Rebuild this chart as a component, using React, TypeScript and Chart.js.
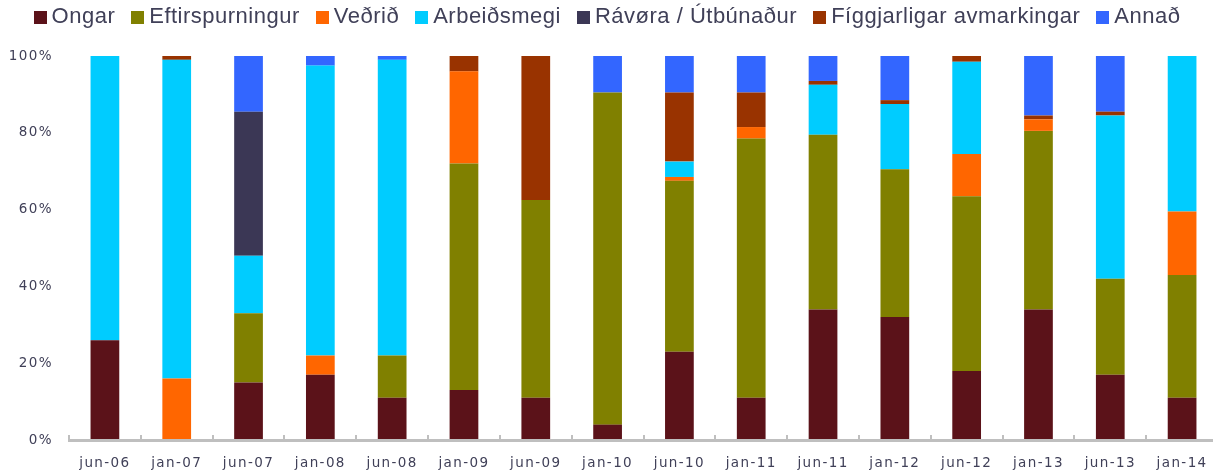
import React, { useEffect, useRef } from "react";
import { Chart, registerables } from "chart.js";

Chart.register(...registerables);

const categories = ["jun-06","jan-07","jun-07","jan-08","jun-08","jan-09","jun-09","jan-10","jun-10","jan-11","jun-11","jan-12","jun-12","jan-13","jun-13","jan-14"];

const ongar =          [26, 0, 15, 17, 11, 13, 11, 4, 23, 11, 34, 32, 18, 34, 17, 11];
const eftirspurningur = [0, 0, 18, 0, 11, 59, 51.5, 86.5, 44.5, 67.5, 45.5, 38.5, 45.5, 46.5, 25, 32];
const vedrid =         [0, 16, 0, 5, 0, 24, 0, 0, 1, 3, 0, 0, 11, 3, 0, 16.5];
const arbeidsmegi =    [74, 83, 15, 75.5, 77, 0, 0, 0, 4, 0, 13, 17, 24, 0, 42.5, 40.5];
const ravora =         [0, 0, 37.5, 0, 0, 0, 0, 0, 0, 0, 0, 0, 0, 0, 0, 0];
const figgjarligar =   [0, 1, 0, 0, 0, 4, 37.5, 0, 18, 9, 1, 1, 1.5, 1, 1, 0];
const annad =          [0, 0, 14.5, 2.5, 1, 0, 0, 9.5, 9.5, 9.5, 6.5, 11.5, 0, 15.5, 14.5, 0];

const yTicks = [0, 20, 40, 60, 80, 100];

const seriesNames = ["Ongar", "Eftirspurningur", "Veðrið", "Arbeiðsmegi", "Rávøra / Útbúnaður", "Fíggjarligar avmarkingar", "Annað"];
const seriesColors = ["#5B1219", "#808000", "#FF6600", "#00CCFF", "#3B3755", "#993300", "#3366FF"];
const seriesValues = [ongar, eftirspurningur, vedrid, arbeidsmegi, ravora, figgjarligar, annad];

const TEXT = "#404058";
const AXIS_SPACING = "1.4px";
const LEGEND_SPACING = "0.5px";

export default function App() {
  const ref = useRef<HTMLCanvasElement | null>(null);
  useEffect(() => {
    if (!ref.current) return;
    const axisPlugin = {
      id: "axisLine",
      afterInit(chart: any) {
        const lg = chart.legend;
        if (lg) {
          const fit0 = lg.fit.bind(lg);
          lg.fit = function () {
            const c = chart.ctx;
            c.save();
            c.letterSpacing = LEGEND_SPACING;
            fit0();
            c.restore();
            this.height = 56;
          };
          const draw0 = lg.draw.bind(lg);
          lg.draw = function (...a: any[]) {
            const c = chart.ctx;
            c.save();
            c.letterSpacing = LEGEND_SPACING;
            draw0(...a);
            c.restore();
          };
        }
      },
      beforeUpdate(chart: any) {
        chart.ctx.letterSpacing = AXIS_SPACING;
      },
      afterLayout(chart: any) {
        const lg = chart.legend;
        if (lg) {
          lg.top = -10;
          lg.left = lg.left - 4;
        }
      },
      beforeDraw(chart: any) {
        chart.ctx.letterSpacing = AXIS_SPACING;
      },
      afterDatasetsDraw(chart: any) {
        const { ctx, chartArea } = chart;
        const xs = chart.scales.x;
        const step = xs.getPixelForValue(1) - xs.getPixelForValue(0);
        const y = chartArea.bottom + 0.5;
        ctx.save();
        ctx.strokeStyle = "#BFBFBF";
        ctx.lineWidth = 3;
        ctx.beginPath();
        ctx.moveTo(chartArea.left - 1, y);
        ctx.lineTo(chartArea.right - 5, y);
        ctx.stroke();
        ctx.lineWidth = 2;
        for (let i = 0; i < categories.length; i++) {
          const x = Math.round(xs.getPixelForValue(i) - step / 2);
          ctx.beginPath();
          ctx.moveTo(x, y);
          ctx.lineTo(x, y - 5.5);
          ctx.stroke();
        }
        ctx.restore();
      },
      afterDraw(chart: any) {
        const lg = chart.legend;
        if (!lg || !lg.legendHitBoxes) return;
        const ctx = chart.ctx;
        ctx.save();
        lg.legendHitBoxes.forEach((hb: any, i: number) => {
          const cy = hb.top + hb.height / 2;
          ctx.fillStyle = seriesColors[i];
          ctx.fillRect(Math.round(hb.left), Math.round(cy - 6.5), 13, 13);
        });
        ctx.restore();
      },
    };
    const chart = new Chart(ref.current, {
      type: "bar",
      data: {
        labels: categories,
        datasets: seriesNames.map((n, i) => ({
          label: n,
          data: seriesValues[i],
          backgroundColor: seriesColors[i],
          borderWidth: 0,
          barPercentage: 0.4,
          categoryPercentage: 1,
        })),
      },
      options: {
        animation: false,
        responsive: false,
        maintainAspectRatio: false,
        layout: { padding: { left: 0, right: 6, top: 0, bottom: 0 } },
        plugins: {
          tooltip: { enabled: false },
          legend: {
            position: "top",
            align: "center",
            labels: {
              boxWidth: 7,
              boxHeight: 13,
              padding: 16,
              color: TEXT,
              font: { family: "'Liberation Sans', Arial, sans-serif", size: 22 },
              generateLabels: (ch: any) =>
                ch.data.datasets.map((ds: any, i: number) => ({
                  text: ds.label,
                  fillStyle: "rgba(0,0,0,0)",
                  strokeStyle: "rgba(0,0,0,0)",
                  lineWidth: 0,
                  fontColor: TEXT,
                  hidden: false,
                  datasetIndex: i,
                })),
            },
          },
        },
        scales: {
          x: {
            stacked: true,
            afterFit(s: any) { s.height = 35; },
            grid: { display: false },
            border: { display: false },
            ticks: {
              color: TEXT,
              padding: 7,
              maxRotation: 0,
              autoSkip: false,
              font: { family: "'DejaVu Sans', sans-serif", size: 13.5 },
            },
          },
          y: {
            stacked: true,
            min: 0,
            max: 100,
            afterFit(s: any) { s.width = 69; },
            afterBuildTicks(s: any) { s.ticks = yTicks.map((v) => ({ value: v })); },
            grid: { display: false },
            border: { display: false },
            ticks: {
              color: TEXT,
              padding: 8,
              font: { family: "'DejaVu Sans', sans-serif", size: 13.5 },
              callback: (v: any) => v + "%",
            },
          },
        },
      },
      plugins: [axisPlugin],
    } as any);
    return () => chart.destroy();
  }, []);
  return (
    <div style={{ position: "fixed", left: 0, top: 0, width: 1224, height: 475, background: "#fff" }}>
      <canvas ref={ref} width={1224} height={475} style={{ display: "block" }} />
    </div>
  );
}
